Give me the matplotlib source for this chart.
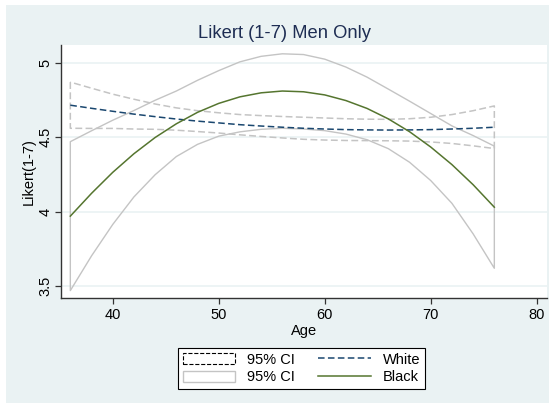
import matplotlib
matplotlib.use("Agg")
import matplotlib.pyplot as plt
from matplotlib.patches import Patch, Rectangle
from matplotlib.lines import Line2D

plt.rcParams["font.family"] = ["Liberation Sans", "DejaVu Sans"]

# quadratic fits of the Likert score by age, with 95% bands
ages = [36, 38, 40, 42, 44, 46, 48, 50, 52, 54, 56,
        58, 60, 62, 64, 66, 68, 70, 72, 74, 76]

white_fit = [4.715, 4.694, 4.674, 4.655, 4.638, 4.622, 4.608, 4.596, 4.584, 4.575, 4.567,
             4.560, 4.555, 4.551, 4.549, 4.548, 4.549, 4.551, 4.555, 4.560, 4.567]
white_hi = [4.870, 4.829, 4.789, 4.755, 4.723, 4.697, 4.678, 4.664, 4.652, 4.645, 4.639,
            4.634, 4.629, 4.624, 4.621, 4.620, 4.624, 4.634, 4.652, 4.678, 4.710]
white_lo = [4.560, 4.559, 4.559, 4.555, 4.553, 4.547, 4.538, 4.528, 4.516, 4.505, 4.495,
            4.486, 4.481, 4.478, 4.477, 4.476, 4.474, 4.468, 4.458, 4.442, 4.424]

black_fit = [3.970, 4.123, 4.264, 4.389, 4.498, 4.590, 4.667, 4.727, 4.771, 4.798, 4.810,
             4.805, 4.784, 4.746, 4.693, 4.623, 4.537, 4.434, 4.316, 4.181, 4.030]
black_hi = [4.470, 4.543, 4.614, 4.679, 4.748, 4.810, 4.882, 4.947, 5.006, 5.043, 5.060,
            5.055, 5.024, 4.971, 4.903, 4.823, 4.742, 4.659, 4.576, 4.511, 4.440]
black_lo = [3.470, 3.703, 3.914, 4.099, 4.248, 4.370, 4.452, 4.507, 4.536, 4.553, 4.560,
            4.555, 4.544, 4.521, 4.483, 4.423, 4.332, 4.209, 4.056, 3.851, 3.620]

x_ticks = [40, 50, 60, 70, 80]
y_ticks = [3.5, 4, 4.5, 5]
y_labels = ["3.5", "4", "4.5", "5"]

BG = "#EAF2F3"
NAVY = "#1A476F"
GREEN = "#55752F"
CI_GREY = "#C4C4C4"

fig = plt.figure(figsize=(5.55, 4.07), dpi=100, facecolor="white")
# graph region sits inside a thin white margin
fig.patches.append(Rectangle((6 / 555, 4 / 407), 543 / 555, 398 / 407,
                             transform=fig.transFigure, facecolor=BG,
                             edgecolor="none", zorder=-10))

ax = fig.add_axes([0.1099, 0.2666, 0.8757, 0.6228])
ax.set_facecolor("white")

# confidence bands as outlined areas
ax.fill_between(ages, white_lo, white_hi, facecolor="none", edgecolor=CI_GREY,
                linestyle=(0, (4.5, 2.2)), linewidth=1.1, zorder=2)
ax.fill_between(ages, black_lo, black_hi, facecolor="none", edgecolor=CI_GREY,
                linewidth=1.0, zorder=2)

ax.plot(ages, white_fit, color=NAVY, linewidth=1.1, dashes=(4.3, 2.2), zorder=3)
ax.plot(ages, black_fit, color=GREEN, linewidth=1.1, zorder=3)

ax.set_xlim(35.12, 80.97)
ax.set_ylim(3.417, 5.119)
ax.set_xticks(x_ticks)
ax.set_yticks(y_ticks)
ax.set_yticklabels(y_labels, rotation=90, va="center")
ax.grid(axis="y", color=BG, linewidth=1.2, zorder=0)
ax.set_axisbelow(True)

for side in ["top", "right"]:
    ax.spines[side].set_visible(False)
for side in ["left", "bottom"]:
    ax.spines[side].set_color("#333333")
    ax.spines[side].set_linewidth(1.0)
ax.tick_params(direction="out", length=4, width=0.9, color="#333333",
               labelsize=10.5, labelcolor="black", pad=3)
ax.tick_params(axis="y", pad=2)

ax.set_xlabel("Age", fontsize=10.5, labelpad=1)
ax.set_ylabel("Likert(1-7)", fontsize=10.5, labelpad=2)

fig.text(0.5135, 0.9165, "Likert (1-7) Men Only", fontsize=13.2, color="#1E2D53",
         ha="center", va="center")

handles = [
    Patch(facecolor="white", edgecolor="black", linestyle="--", linewidth=0.8),
    Patch(facecolor="white", edgecolor=CI_GREY, linewidth=1.0),
    Line2D([], [], color=NAVY, linewidth=1.1, dashes=(4.3, 2.2)),
    Line2D([], [], color=GREEN, linewidth=1.1),
]
labels = ["95% CI", "95% CI", "White", "Black"]
leg = fig.legend(handles, labels, ncol=2, loc="center",
                 bbox_to_anchor=(0.5432, 0.0946), bbox_transform=fig.transFigure,
                 fontsize=10.5, frameon=True, fancybox=False, framealpha=1,
                 edgecolor="black", handlelength=3.6, handleheight=0.8,
                 handletextpad=0.8, columnspacing=1.6, labelspacing=0.25,
                 borderpad=0.35)
leg.get_frame().set_linewidth(0.8)

fig.savefig("out.png", dpi=100, facecolor="white")
